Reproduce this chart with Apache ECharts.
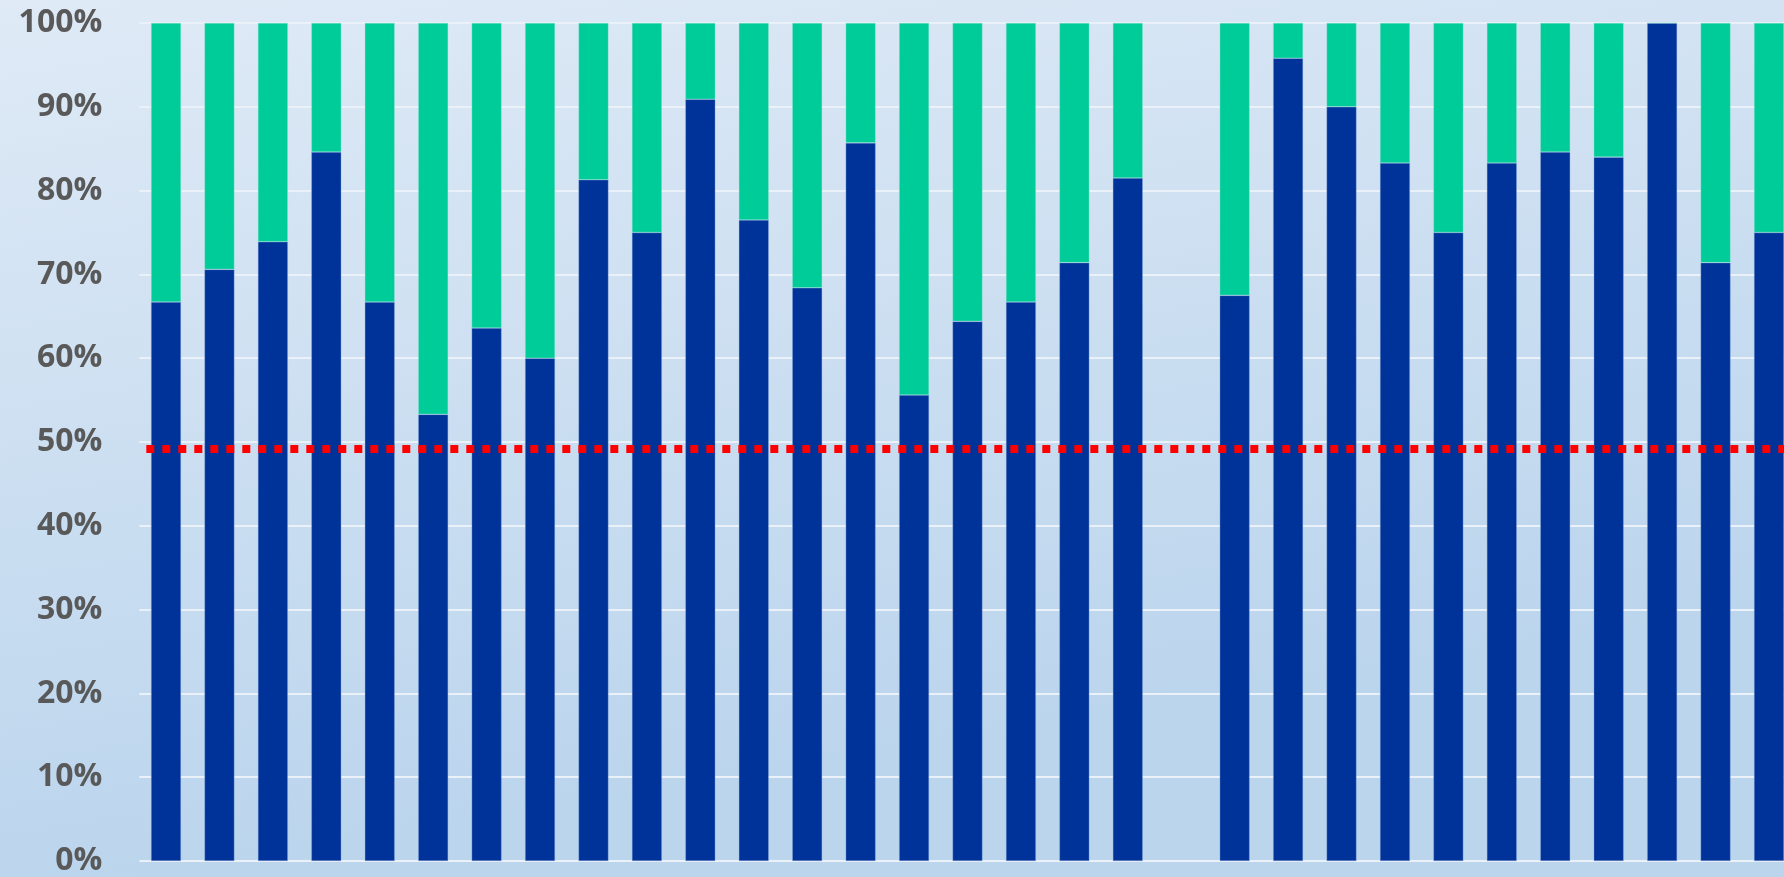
<!DOCTYPE html>
<html>
<head>
<meta charset="utf-8">
<script src="https://cdn.jsdelivr.net/npm/echarts@6/dist/echarts.min.js"></script>
<style>
html,body{margin:0;padding:0;width:1784px;height:877px;overflow:hidden;}
#chart{width:1796px;height:877px;}
</style>
</head>
<body>
<div id="chart"></div>
<script>
// 31 categories, the 20th is empty (gap between groups); the reference is cut off at the right edge
var categories = ['1','2','3','4','5','6','7','8','9','10','11','12','13','14','15','16','17','18','19','20','21','22','23','24','25','26','27','28','29','30','31'];
var blueShare = [66.7,70.6,73.9,84.6,66.7,53.3,63.6,60.0,81.3,75.0,90.9,76.5,68.4,85.7,55.6,64.4,66.7,71.4,81.5,null,67.5,95.8,90.0,83.3,75.0,83.3,84.6,84.0,100,71.4,75.0];
var greenShare = [33.3,29.4,26.1,15.4,33.3,46.7,36.4,40.0,18.7,25.0,9.1,23.5,31.6,14.3,44.4,35.6,33.3,28.6,18.5,null,32.5,4.2,10.0,16.7,25.0,16.7,15.4,16.0,0,28.6,25.0];
var referenceLine = 49.2;
var yTicks = {min:0, max:100, interval:10};

var chart = echarts.init(document.getElementById('chart'), null, {renderer:'canvas'});
chart.setOption({
  animation:false,
  backgroundColor:{type:'linear',x:0,y:0,x2:0.08,y2:1,colorStops:[{offset:0,color:'#dfeaf6'},{offset:1,color:'#bbd5ed'}]},
  grid:{left:139.3, top:23, right:0.3, bottom:14},
  xAxis:{type:'category', data:categories, axisLine:{show:false}, axisTick:{show:false}, axisLabel:{show:false}, splitLine:{show:false}},
  yAxis:{type:'value', min:yTicks.min, max:yTicks.max, interval:yTicks.interval,
    axisLine:{show:false}, axisTick:{show:false},
    axisLabel:{formatter:'{value}%', color:'#595959', fontFamily:'Open Sans', fontWeight:'bold', fontSize:32, margin:37},
    splitLine:{lineStyle:{color:'#ebf1f8', width:2}}},
  series:[
    {name:'blue', type:'bar', stack:'s', barWidth:30, data:blueShare,
      itemStyle:{color:'#003399', borderColor:'rgba(140,170,220,0.6)', borderWidth:0.6},
      markLine:{silent:true, symbol:['none','none'], label:{show:false},
        lineStyle:{color:'#ff0000', width:8, type:[8,8], dashOffset:9, cap:'butt'},
        data:[{yAxis:referenceLine}]}},
    {name:'green', type:'bar', stack:'s', barWidth:30, data:greenShare,
      itemStyle:{color:'#00cc99', borderColor:'rgba(150,230,210,0.6)', borderWidth:0.6}}
  ]
});
</script>
</body>
</html>
